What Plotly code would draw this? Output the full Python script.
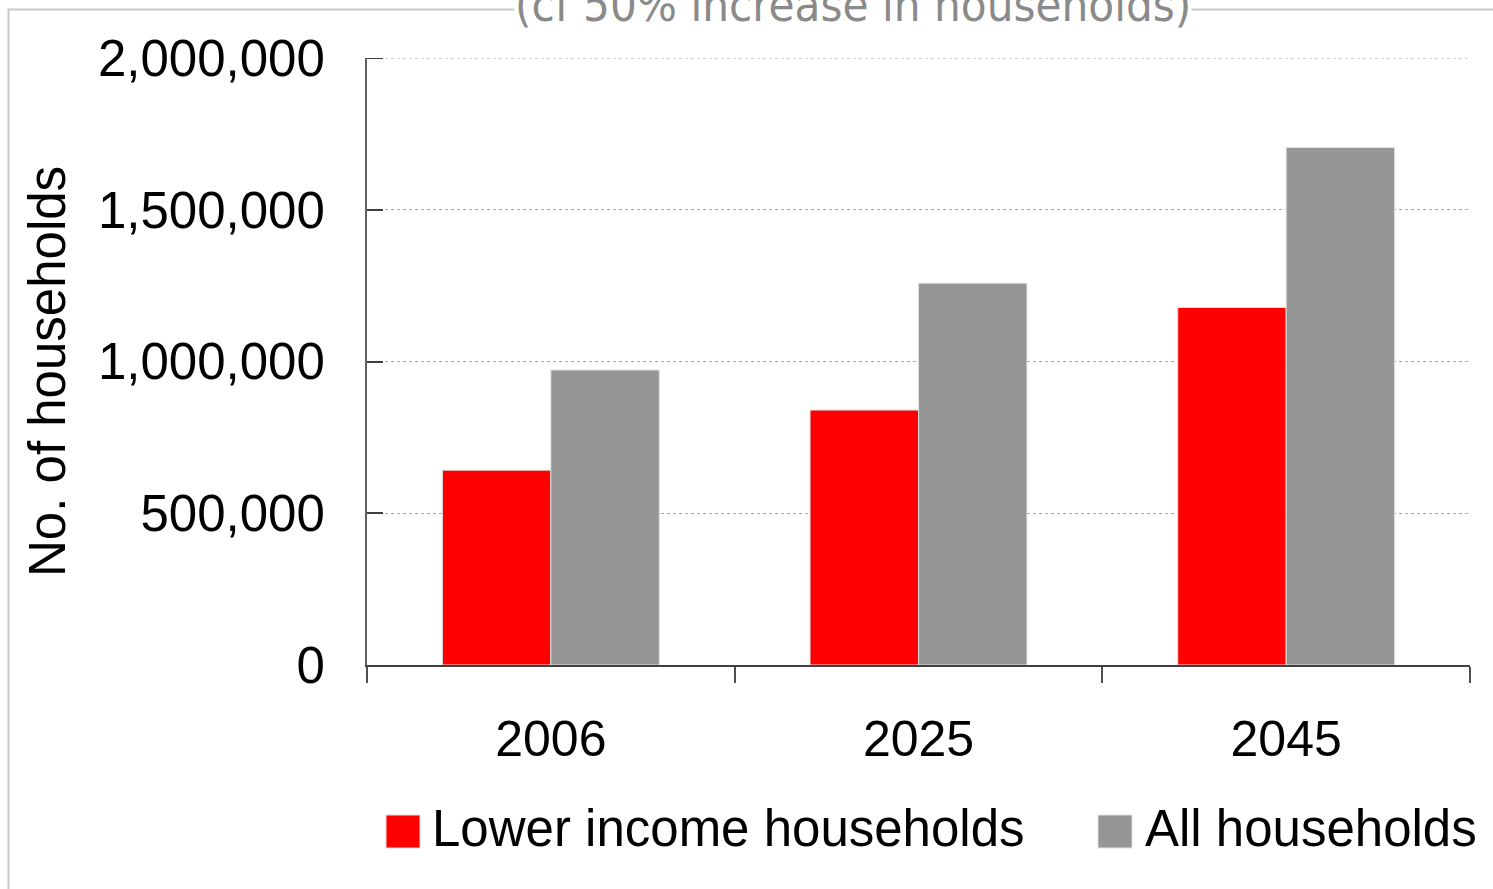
import plotly.graph_objects as go

years = ["2006", "2025", "2045"]
lower_income = [642000, 840000, 1178000]
all_households = [972000, 1258000, 1705000]
series_names = ["Lower income households", "All households"]
series_colors = ["#FF0000", "#969696"]
y_ticks = [0, 500000, 1000000, 1500000, 2000000]
y_tick_text = ["0", "500,000", "1,000,000", "1,500,000", "2,000,000"]

W, H = 1493, 889
L, R, T, B = 367, 23, 58, 224
pw, ph = W - L - R, H - T - B


def px(x):
    return (x - L) / pw


def py(y):
    return (H - B - y) / ph


FONT = "Liberation Sans, Arial, sans-serif"

fig = go.Figure()
for name, vals, col in zip(series_names, [lower_income, all_households], series_colors):
    fig.add_trace(go.Bar(
        x=years, y=vals, name=name,
        marker=dict(color=col, line=dict(color="#e0e0e0", width=1)),
        showlegend=False,
    ))

fig.update_layout(
    width=W, height=H,
    margin=dict(l=L, r=R, t=T, b=B, autoexpand=False),
    paper_bgcolor="white", plot_bgcolor="white",
    barmode="group", bargap=0.41, bargroupgap=0,
    font=dict(family=FONT, color="black", size=50),
    xaxis=dict(
        showline=True, linecolor="#404040", linewidth=2,
        ticks="outside", tickson="boundaries", ticklen=16, tickwidth=2, tickcolor="#505050",
        tickfont=dict(size=50, family=FONT), ticklabelstandoff=29,
        showgrid=False, fixedrange=True,
    ),
    yaxis=dict(
        range=[0, 2000000],
        tickvals=y_ticks, ticktext=y_tick_text,
        showline=True, linecolor="#606060", linewidth=2,
        ticks="inside", ticklen=16, tickwidth=2, tickcolor="#404040",
        tickfont=dict(size=51, family=FONT), ticklabelstandoff=30,
        showgrid=True, gridcolor="#a8a8a8", gridwidth=1, griddash="3px,3px",
        zeroline=False, fixedrange=True,
    ),
)

shapes = []
# top gridline (at range edge, which plotly clips)
shapes.append(dict(type="line", xref="paper", yref="y",
                   x0=0, x1=1, y0=y_ticks[-1], y1=y_ticks[-1],
                   line=dict(color="#a8a8a8", width=1, dash="3px,3px"), layer="below"))
shapes.append(dict(type="line", xref="paper", yref="y",
                   x0=0, x1=16 / pw, y0=y_ticks[-1], y1=y_ticks[-1],
                   line=dict(color="#404040", width=2)))
# outer frame lines (top and left)
shapes.append(dict(type="line", xref="paper", yref="paper",
                   x0=px(8), x1=px(W + 5), y0=py(9.5), y1=py(9.5),
                   line=dict(color="#c8c8c8", width=2), layer="below"))
shapes.append(dict(type="line", xref="paper", yref="paper",
                   x0=px(8.5), x1=px(8.5), y0=py(9), y1=py(H + 5),
                   line=dict(color="#c8c8c8", width=2), layer="below"))
# legend swatches
shapes.append(dict(type="rect", xref="paper", yref="paper",
                   x0=px(386), x1=px(420), y0=py(848), y1=py(815),
                   fillcolor=series_colors[0], line=dict(color="#e0e0e0", width=1)))
shapes.append(dict(type="rect", xref="paper", yref="paper",
                   x0=px(1098), x1=px(1132), y0=py(848), y1=py(815),
                   fillcolor=series_colors[1], line=dict(color="#e0e0e0", width=1)))
fig.update_layout(shapes=shapes)

annotations = [
    dict(text="(cf 50% increase in households)", xref="paper", yref="paper",
         x=px(853), y=py(33), xanchor="center", yanchor="bottom", showarrow=False,
         font=dict(family="Liberation Sans Narrow, DejaVu Sans Condensed, Liberation Sans, sans-serif",
                   size=47, color="#8a8a8a"),
         bgcolor="white", borderpad=0),
    dict(text="No. of households", xref="paper", yref="paper",
         x=px(47), y=py(372), xanchor="center", yanchor="middle", textangle=-90,
         showarrow=False, font=dict(family=FONT, size=51, color="black")),
    dict(text=series_names[0], xref="paper", yref="paper",
         x=px(430), y=py(828), xanchor="left", yanchor="middle", showarrow=False,
         font=dict(family=FONT, size=51, color="black")),
    dict(text=series_names[1], xref="paper", yref="paper",
         x=px(1143), y=py(828), xanchor="left", yanchor="middle", showarrow=False,
         font=dict(family=FONT, size=51, color="black")),
]
fig.update_layout(annotations=annotations)

fig.write_html("out.html")
